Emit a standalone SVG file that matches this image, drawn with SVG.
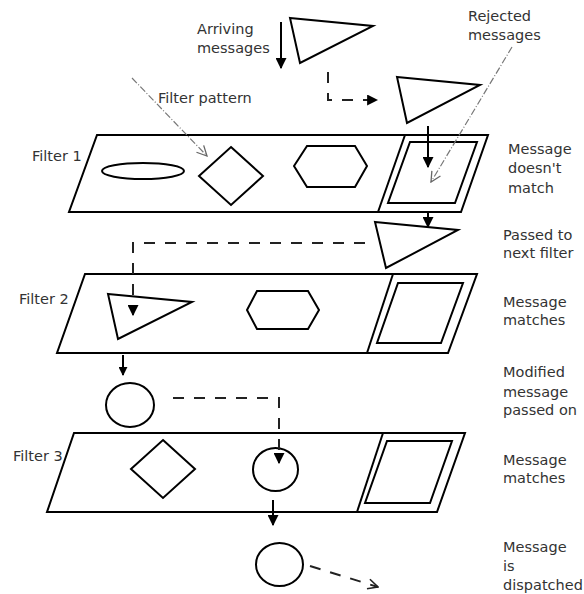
<svg xmlns="http://www.w3.org/2000/svg" width="584" height="594" viewBox="0 0 584 594">
<defs>
<style>
.shape{fill:none;stroke:#000;stroke-width:2;stroke-linejoin:miter}
.line{fill:none;stroke:#000;stroke-width:2}
.dash{fill:none;stroke:#222;stroke-width:2;stroke-dasharray:11 10}
.hint{fill:none;stroke:#777;stroke-width:1.2;stroke-dasharray:7 2 1 2}
.lbl{font-family:"DejaVu Sans","Liberation Sans",sans-serif;font-size:14.5px;fill:#333}
</style>
<marker id="ah" viewBox="0 0 10 10" refX="9" refY="5" markerWidth="11" markerHeight="11" markerUnits="userSpaceOnUse" orient="auto"><path d="M0,0 L10,5 L0,10 z" fill="#000"/></marker>
<marker id="ahs" viewBox="0 0 10 10" refX="9" refY="5" markerWidth="9" markerHeight="9" markerUnits="userSpaceOnUse" orient="auto"><path d="M0,0 L10,5 L0,10 z" fill="#000"/></marker>
<marker id="open" viewBox="0 0 12 12" refX="11" refY="6" markerWidth="12" markerHeight="12" markerUnits="userSpaceOnUse" orient="auto"><path d="M1,1 L11,6 L1,11" fill="none" stroke="#666" stroke-width="1.3"/></marker>
<marker id="openk" viewBox="0 0 12 12" refX="11" refY="6" markerWidth="12" markerHeight="12" markerUnits="userSpaceOnUse" orient="auto"><path d="M1,1 L11,6 L1,11" fill="none" stroke="#222" stroke-width="1.6"/></marker>
</defs>
<rect width="584" height="594" fill="#fff"/>

<g id="filter1">
<polygon class="shape" points="97,135 488,135 461,212 69,212"/>
<line class="shape" x1="405" y1="135" x2="378" y2="212"/>
<polygon class="shape" points="410,142 477,142 455,203 388,203"/>
<text class="lbl" x="32" y="161">Filter 1</text>
</g>
<g id="f1-ellipse"><ellipse class="shape" cx="143" cy="171" rx="41" ry="8"/></g>
<g id="f1-diamond"><polygon class="shape" points="231,147 263,176 231,205 199,176"/></g>
<g id="f1-hexagon"><polygon class="shape" points="294,166 307,146 355,146 367,166 355,187 307,187"/></g>

<g id="filter2">
<polygon class="shape" points="85,274 477,274 448,353 57,353"/>
<line class="shape" x1="393" y1="274" x2="367" y2="353"/>
<polygon class="shape" points="398,283 463,283 441,343 377,343"/>
<text class="lbl" x="19" y="304">Filter 2</text>
</g>
<g id="f2-triangle"><polygon class="shape" points="108,294 192,302 118,339"/></g>
<g id="f2-hexagon"><polygon class="shape" points="247,310 257,291 308,291 319,310 308,329 257,329"/></g>

<g id="filter3">
<polygon class="shape" points="74,433 465,433 437,512 47,512"/>
<line class="shape" x1="383" y1="433" x2="357" y2="512"/>
<polygon class="shape" points="387,441 452,441 430,503 365,503"/>
<text class="lbl" x="13" y="461">Filter 3</text>
</g>
<g id="f3-diamond"><polygon class="shape" points="163,440 195,469 163,498 131,469"/></g>
<g id="f3-circle"><ellipse class="shape" cx="275.5" cy="469.5" rx="22.5" ry="21.5"/></g>

<g id="msg-arriving"><polygon class="shape" points="290,18 373,26 300,63"/></g>
<g id="msg-rejected"><polygon class="shape" points="397,77 480,85 407,123"/></g>
<g id="msg-passed"><polygon class="shape" points="375,222 458,230 386,268"/></g>
<g id="msg-modified"><ellipse class="shape" cx="130" cy="405" rx="24" ry="22"/></g>
<g id="msg-dispatched"><ellipse class="shape" cx="279.5" cy="564.5" rx="23.5" ry="21.5"/></g>

<g id="connectors">
<line class="line" x1="281" y1="22" x2="281" y2="68" marker-end="url(#ah)"/>
<path class="dash" d="M328,72 V100 H377" marker-end="url(#ah)"/>
<line class="line" x1="428" y1="126" x2="428" y2="167" marker-end="url(#ah)"/>
<line class="hint" x1="132" y1="78" x2="207" y2="156" marker-end="url(#open)"/>
<line class="hint" x1="512" y1="47" x2="431" y2="182" marker-end="url(#open)"/>
<line class="line" x1="428" y1="212" x2="428" y2="227" marker-end="url(#ah)"/>
<path class="dash" d="M365,243 H133 V315" marker-end="url(#ah)"/>
<line class="line" x1="123" y1="355" x2="123" y2="375" marker-end="url(#ahs)"/>
<path class="dash" d="M173,398 H279 V463" marker-end="url(#ah)"/>
<line class="line" x1="273" y1="500" x2="273" y2="525" marker-end="url(#ah)"/>
<line class="dash" x1="310" y1="566" x2="378" y2="587" marker-end="url(#openk)"/>
</g>

<g id="labels">
<text class="lbl" x="197" y="34">Arriving</text>
<text class="lbl" x="197" y="53">messages</text>
<text class="lbl" x="468" y="21">Rejected</text>
<text class="lbl" x="468" y="40">messages</text>
<text class="lbl" x="158" y="103">Filter pattern</text>
<text class="lbl" x="508" y="154">Message</text>
<text class="lbl" x="508" y="173">doesn't</text>
<text class="lbl" x="508" y="193">match</text>
<text class="lbl" x="503" y="240">Passed to</text>
<text class="lbl" x="503" y="258">next filter</text>
<text class="lbl" x="503" y="307">Message</text>
<text class="lbl" x="503" y="325">matches</text>
<text class="lbl" x="503" y="377">Modified</text>
<text class="lbl" x="503" y="397">message</text>
<text class="lbl" x="503" y="415">passed on</text>
<text class="lbl" x="503" y="465">Message</text>
<text class="lbl" x="503" y="483">matches</text>
<text class="lbl" x="503" y="552">Message</text>
<text class="lbl" x="503" y="571">is</text>
<text class="lbl" x="503" y="590">dispatched</text>
</g>
</svg>
